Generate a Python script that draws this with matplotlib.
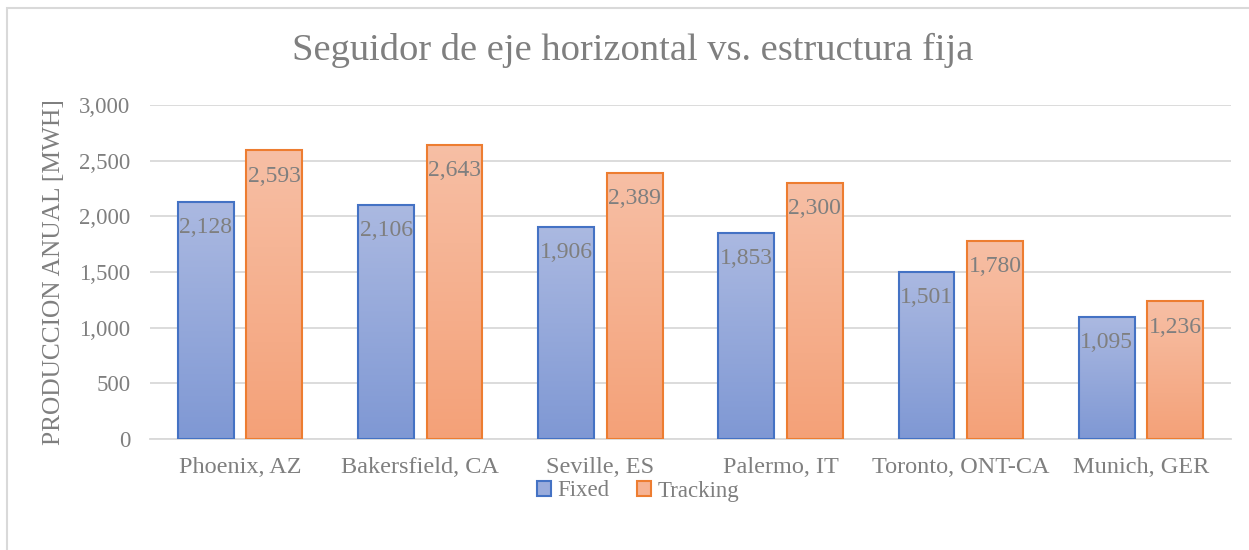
import matplotlib
matplotlib.use("Agg")
import matplotlib.pyplot as plt
import numpy as np
from matplotlib.patches import Rectangle, Patch
from matplotlib.colors import LinearSegmentedColormap

categories = ["Phoenix, AZ", "Bakersfield, CA", "Seville, ES", "Palermo, IT", "Toronto, ONT-CA", "Munich, GER"]
fixed = [2128, 2106, 1906, 1853, 1501, 1095]
tracking = [2593, 2643, 2389, 2300, 1780, 1236]
yticks = [0, 500, 1000, 1500, 2000, 2500, 3000]

plt.rcParams['font.family'] = ['Liberation Serif', 'DejaVu Serif']
TXT = '#7F7F7F'
W, H = 1249, 550
fig = plt.figure(figsize=(W/100, H/100), dpi=100)
ax = fig.add_axes([150/W, 1-439/H, (1231-150)/W, (439-105)/H])

# figure border (left & top visible)
fig.add_artist(Rectangle((6.5/W, -0.1), 1.2, 1.1 - 8.5/H, transform=fig.transFigure,
                         fill=False, edgecolor='#D9D9D9', linewidth=1.5, zorder=0))

ax.set_xlim(-0.5, 5.5)
ax.set_ylim(0, 3000)
ax.set_yticks(yticks)
ax.set_yticklabels([f"{v:,}" for v in yticks])
ax.yaxis.grid(True, color='#D9D9D9', linewidth=1.3)
ax.set_axisbelow(True)
for s in ['left', 'right', 'top']:
    ax.spines[s].set_visible(False)
ax.spines['bottom'].set_color('#D9D9D9')
ax.spines['bottom'].set_linewidth(1.3)
ax.tick_params(axis='y', length=0, pad=14, labelsize=16.5, labelcolor=TXT)
ax.tick_params(axis='x', length=0, pad=13, labelsize=17.5, labelcolor=TXT)
x = np.arange(len(categories))
ax.set_xticks(x)
ax.set_xticklabels(categories)
ax.set_ylabel("PRODUCCION ANUAL [MWH]", fontsize=18.3, color=TXT, labelpad=10)

blue_cmap = LinearSegmentedColormap.from_list('b', ['#7F98D4', '#ABB9E1'])
orng_cmap = LinearSegmentedColormap.from_list('o', ['#F4A178', '#F7BFA5'])
grad = np.linspace(0, 1, 256).reshape(-1, 1)

bw = 0.31
off = 0.19
for vals, o, cmap, ec in [(fixed, -off, blue_cmap, '#4472C4'), (tracking, off, orng_cmap, '#ED7D31')]:
    bars = ax.bar(x + o, vals, width=bw, facecolor='none', edgecolor=ec, linewidth=1.5, zorder=3)
    for b, v in zip(bars, vals):
        x0 = b.get_x(); x1 = x0 + b.get_width()
        ax.imshow(grad, extent=[x0, x1, 0, v], origin='lower', cmap=cmap,
                  aspect='auto', zorder=2)
        ax.annotate(f"{v:,}", (x0 + b.get_width()/2, v), xytext=(0, -11), textcoords='offset points',
                    ha='center', va='top', fontsize=17, color=TXT, zorder=4)
ax.set_xlim(-0.5, 5.5)
ax.set_ylim(0, 3000)

fig.text(633/W, 1-50/H, "Seguidor de eje horizontal vs. estructura fija", ha='center', va='center',
         fontsize=27.7, color=TXT)

handles = [Patch(facecolor='#9AACDC', edgecolor='#4472C4', linewidth=1.5, label='Fixed'),
           Patch(facecolor='#F6B394', edgecolor='#ED7D31', linewidth=1.5, label='Tracking')]
fig.legend(handles=handles, loc='center', bbox_to_anchor=(638/W, 1-491/H), ncol=2, frameon=False,
           fontsize=16.5, labelcolor=TXT, handlelength=0.6, handleheight=0.6, handletextpad=0.3,
           columnspacing=1.2)

fig.savefig("out.png", dpi=100)
